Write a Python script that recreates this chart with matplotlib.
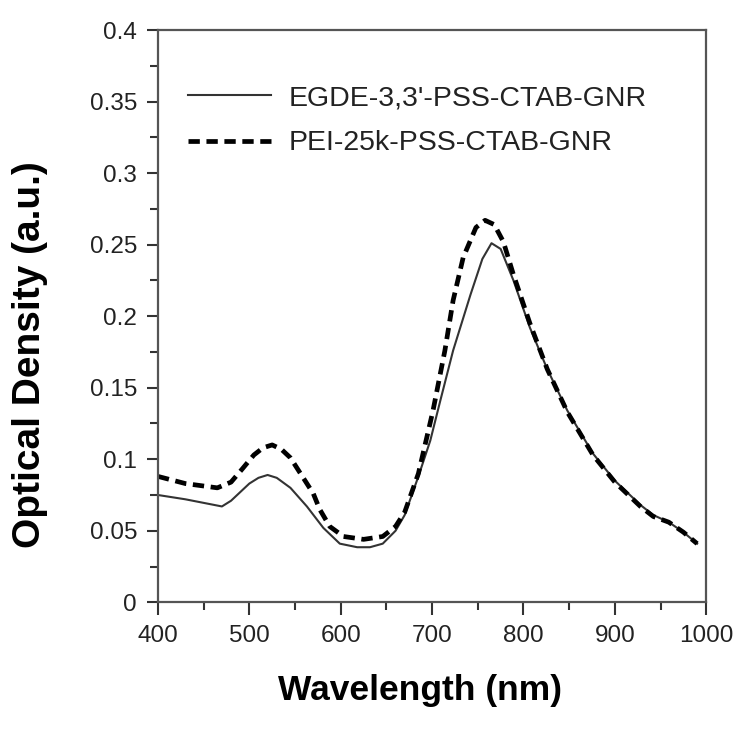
import matplotlib
matplotlib.use('Agg')
import matplotlib.pyplot as plt
from matplotlib.ticker import MultipleLocator

# values
wl_egde = [400, 430, 470, 480, 490, 500, 510, 520, 530, 545, 563, 581, 599,
           618, 632, 646, 660, 670, 685, 698, 709, 723, 742, 755, 765, 775,
           789, 807, 826, 848, 876, 900, 928, 942, 959, 975, 990]
od_egde = [0.075, 0.072, 0.067, 0.071, 0.077, 0.083, 0.087, 0.089, 0.087,
           0.080, 0.067, 0.052, 0.041, 0.0385, 0.0385, 0.041, 0.050, 0.061,
           0.088, 0.113, 0.141, 0.176, 0.215, 0.240, 0.251, 0.247, 0.225,
           0.192, 0.163, 0.134, 0.104, 0.085, 0.068, 0.061, 0.056, 0.049, 0.041]

wl_pei = [400, 430, 465, 480, 492, 505, 515, 525, 535, 545, 556, 570, 577,
          588, 603, 625, 646, 660, 670, 685, 701, 714, 723, 734, 748, 758,
          768, 778, 789, 807, 826, 848, 876, 900, 928, 942, 959, 975, 990]
od_pei = [0.088, 0.083, 0.080, 0.084, 0.093, 0.103, 0.108, 0.110, 0.107,
          0.101, 0.090, 0.076, 0.065, 0.053, 0.046, 0.044, 0.046, 0.053,
          0.063, 0.090, 0.134, 0.176, 0.211, 0.241, 0.262, 0.267, 0.264,
          0.252, 0.229, 0.195, 0.163, 0.133, 0.103, 0.084, 0.067, 0.060,
          0.056, 0.049, 0.041]

label_egde = "EGDE-3,3'-PSS-CTAB-GNR"
label_pei = 'PEI-25k-PSS-CTAB-GNR'

plt.rcParams['font.family'] = ['Liberation Sans', 'DejaVu Sans']

fig = plt.figure(figsize=(7.45, 7.51), dpi=100)
ax = fig.add_axes([0.212, 0.198, 0.736, 0.762])

ax.plot(wl_egde, od_egde, color='#333333', lw=1.5, label=label_egde)
ax.plot(wl_pei, od_pei, color='black', lw=3.4, linestyle=(0, (2.4, 1.4)),
        label=label_pei)

ax.set_xlim(400, 1000)
ax.set_ylim(0, 0.4)
ax.xaxis.set_major_locator(MultipleLocator(100))
ax.xaxis.set_minor_locator(MultipleLocator(50))
ax.yaxis.set_major_locator(MultipleLocator(0.05))
ax.yaxis.set_minor_locator(MultipleLocator(0.025))
ax.yaxis.set_major_formatter(plt.FuncFormatter(lambda v, p: f'{v:g}'))

for s in ax.spines.values():
    s.set_color('#555555')
    s.set_linewidth(1.6)

ax.tick_params(which='both', direction='out', color='#333333', width=1.5,
               labelsize=17.5, labelcolor='#222222')
ax.tick_params(axis='x', which='major', length=9, pad=7)
ax.tick_params(axis='x', which='minor', length=6)
ax.tick_params(axis='y', which='major', length=8, pad=7)
ax.tick_params(axis='y', which='minor', length=6)

ax.set_xlabel('Wavelength (nm)', fontsize=25.5, fontweight='bold')
ax.set_ylabel('Optical Density (a.u.)', fontsize=28, fontweight='bold')
ax.xaxis.set_label_coords(0.478, -0.154)
ax.yaxis.set_label_coords(-0.234, 0.432)
ax.xaxis.label.set_va('center')
ax.yaxis.label.set_va('center')

ax.legend(loc='upper left', bbox_to_anchor=(0.009, 0.948), frameon=False,
          fontsize=20.5, handlelength=2.9, handletextpad=0.6, labelspacing=0.67,
          labelcolor='#222222')

fig.savefig('out.png', dpi=100)
